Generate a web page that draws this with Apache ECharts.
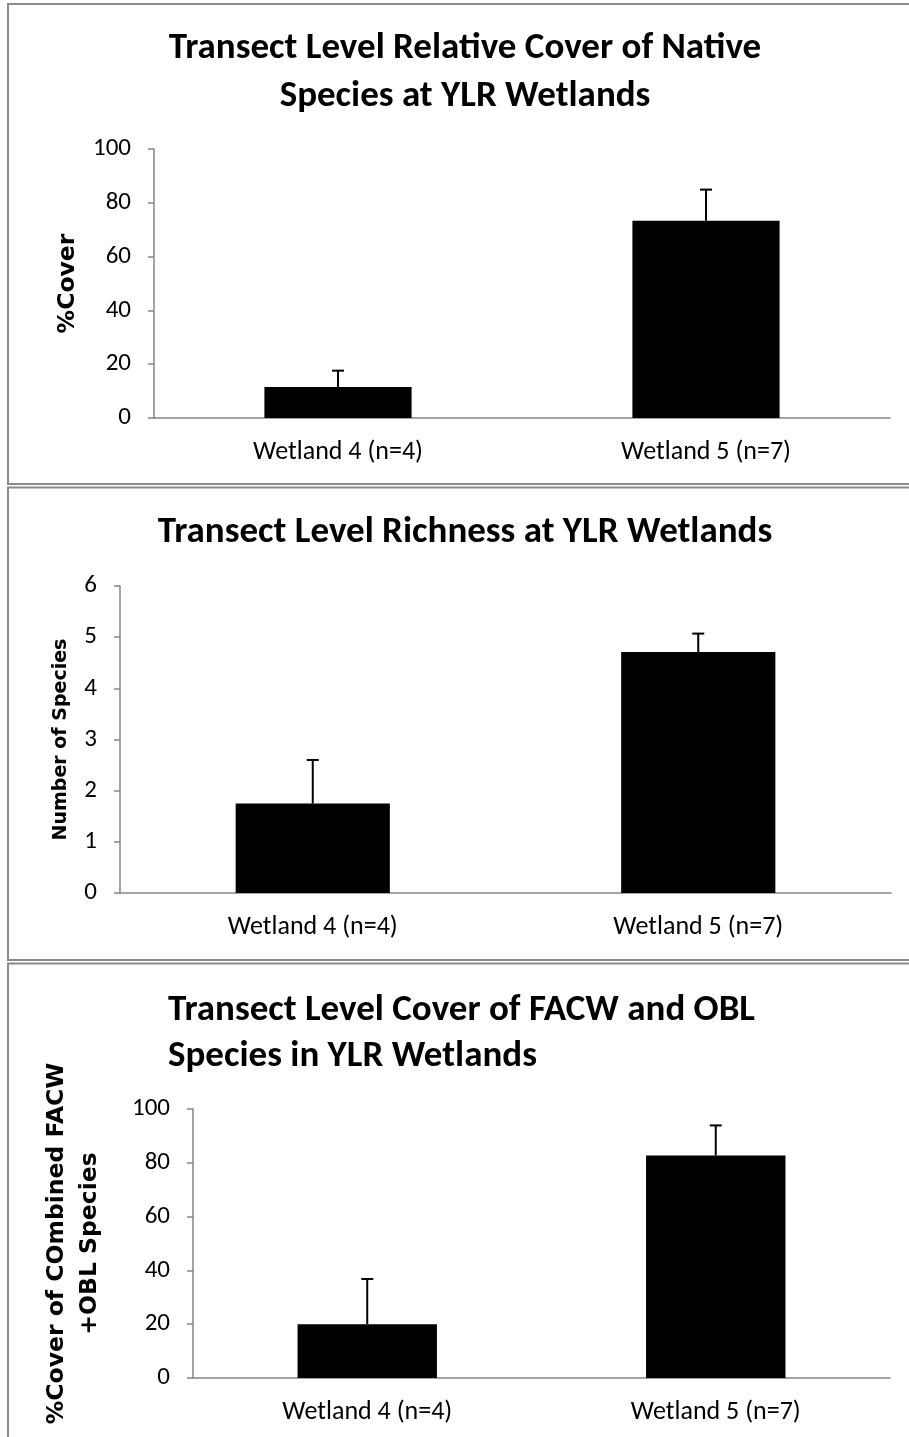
<!DOCTYPE html>
<html>
<head>
<meta charset="utf-8">
<script src="https://cdn.jsdelivr.net/npm/echarts@6/dist/echarts.min.js"></script>
<style>
  html, body { margin: 0; padding: 0; background: #fff; }
  #chart { width: 909px; height: 1437px; }
</style>
</head>
<body>
<div id="chart"></div>
<script>
// datos
const categories = ['Wetland 4 (n=4)', 'Wetland 5 (n=7)'];

const nativeCover = [11.5, 73.3];
const nativeCoverErr = [6.1, 11.6];

const richness = [1.75, 4.71];
const richnessErr = [0.85, 0.36];

const facwOblCover = [20.0, 82.7];
const facwOblCoverErr = [16.8, 11.2];

const titleFont = "Carlito, 'Liberation Sans Narrow', 'DejaVu Sans Condensed', sans-serif";
const labelFont = "Carlito, 'Open Sans', sans-serif";
const nameFont = "'DejaVu Sans', Verdana, sans-serif";
const axisGray = '#868686';

function errData(vals, errs) {
    return vals.map((v, i) => [i, v, errs[i]]);
}

// barra de error solo hacia arriba, como en Excel
function renderErr(params, api) {
    const i = api.value(0);
    const base = api.coord([i, api.value(1)]);
    const top = api.coord([i, api.value(1) + api.value(2)]);
    const style = { stroke: '#000', lineWidth: 2 };
    return {
        type: 'group',
        children: [
            { type: 'line', shape: { x1: base[0], y1: base[1], x2: top[0], y2: top[1] }, style: style },
            { type: 'line', shape: { x1: top[0] - 6, y1: top[1], x2: top[0] + 6, y2: top[1] }, style: style }
        ]
    };
}

function xAxisFor(idx) {
    return {
        type: 'category', gridIndex: idx, data: categories,
        axisLine: { lineStyle: { color: axisGray, width: 1.5 } },
        axisTick: { length: 7, lineStyle: { color: axisGray, width: 1.5 } },
        axisLabel: { color: '#000', fontFamily: labelFont, fontSize: 26, margin: 21 }
    };
}

function yAxisFor(idx, max, interval, name, nameSize, gap, lh) {
    return {
        type: 'value', gridIndex: idx, min: 0, max: max, interval: interval,
        name: name, nameLocation: 'middle', nameRotate: 90, nameGap: gap,
        nameTextStyle: { color: '#000', fontFamily: nameFont, fontWeight: 'bold', fontSize: nameSize, lineHeight: lh },
        axisLine: { show: true, lineStyle: { color: axisGray, width: 1.5 } },
        axisTick: { show: true, length: 6, lineStyle: { color: axisGray, width: 1.5 } },
        splitLine: { show: false },
        axisLabel: { color: '#000', fontFamily: labelFont, fontSize: 25, margin: 23 }
    };
}

const chart = echarts.init(document.getElementById('chart'), null, { renderer: 'canvas' });

chart.setOption({
    animation: false,
    backgroundColor: '#fff',
    title: [
        {
            text: 'Transect Level Relative Cover of Native\nSpecies at YLR Wetlands',
            left: 465, top: 25, textAlign: 'center', padding: 0,
            textStyle: { fontFamily: titleFont, fontWeight: 'bold', fontSize: 37, lineHeight: 48, color: '#000' }
        },
        {
            text: 'Transect Level Richness at YLR Wetlands',
            left: 465, top: 509, textAlign: 'center', padding: 0,
            textStyle: { fontFamily: titleFont, fontWeight: 'bold', fontSize: 37, lineHeight: 47, color: '#000' }
        },
        {
            text: 'Transect Level Cover of FACW and OBL\nSpecies in YLR Wetlands',
            left: 168, top: 988, textAlign: 'left', padding: 0,
            textStyle: { fontFamily: titleFont, fontWeight: 'bold', fontSize: 37, lineHeight: 46, color: '#000' }
        }
    ],
    grid: [
        { left: 154, top: 149, width: 736, height: 269 },
        { left: 120, top: 586, width: 771, height: 307 },
        { left: 193, top: 1109, width: 697, height: 269 }
    ],
    xAxis: [xAxisFor(0), xAxisFor(1), xAxisFor(2)],
    yAxis: [
        yAxisFor(0, 100, 20, '%Cover', 23.5, 73, 26),
        yAxisFor(1, 6, 1, 'Number of Species', 19, 48, 22),
        yAxisFor(2, 100, 20, '%Cover of COmbined FACW\n+OBL Species', 23.5, 87, 33)
    ],
    series: [
        { type: 'bar', xAxisIndex: 0, yAxisIndex: 0, data: nativeCover, barWidth: '40%', itemStyle: { color: '#000' } },
        { type: 'bar', xAxisIndex: 1, yAxisIndex: 1, data: richness, barWidth: '40%', itemStyle: { color: '#000' } },
        { type: 'bar', xAxisIndex: 2, yAxisIndex: 2, data: facwOblCover, barWidth: '40%', itemStyle: { color: '#000' } },
        { type: 'custom', xAxisIndex: 0, yAxisIndex: 0, data: errData(nativeCover, nativeCoverErr), renderItem: renderErr, z: 3 },
        { type: 'custom', xAxisIndex: 1, yAxisIndex: 1, data: errData(richness, richnessErr), renderItem: renderErr, z: 3 },
        { type: 'custom', xAxisIndex: 2, yAxisIndex: 2, data: errData(facwOblCover, facwOblCoverErr), renderItem: renderErr, z: 3 }
    ],
    // marcos de cada panel (sin borde derecho, como el original)
    graphic: [
        { type: 'rect', shape: { x: 8, y: 4, width: 930, height: 480 }, style: { fill: null, stroke: '#8a8a8a', lineWidth: 2 } },
        { type: 'rect', shape: { x: 8, y: 487.5, width: 930, height: 472.5 }, style: { fill: null, stroke: '#8a8a8a', lineWidth: 2 } },
        { type: 'rect', shape: { x: 8, y: 963.5, width: 930, height: 500 }, style: { fill: null, stroke: '#8a8a8a', lineWidth: 2 } }
    ]
});
</script>
</body>
</html>
